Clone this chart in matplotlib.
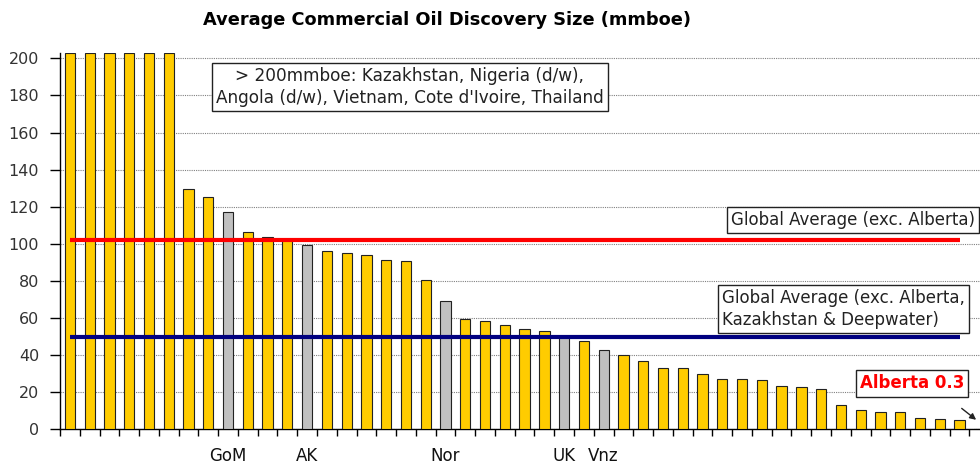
# Average commercial oil discovery size chart
import matplotlib
matplotlib.use("Agg")
import matplotlib.pyplot as plt
import numpy as np

# Bar values (mmboe) - bars above 200 are capped at the top of the plot
sizes = [203, 203, 203, 203, 203, 203, 129.4, 125, 117.4, 106.6,
         103.6, 102, 99.5, 96, 95.3, 93.7, 91.4, 90.7, 80.3, 69,
         59.5, 58.4, 56.1, 54, 53.2, 50.2, 47.5, 42.5, 40, 37,
         33, 33, 29.7, 27.2, 27.2, 26.6, 23.3, 22.7, 21.5, 13.1,
         10.2, 9.5, 9.5, 5.9, 5.4, 4.8, 0.3]
# grey bars are the labelled regions
grey_bars = [8, 12, 19, 25, 27]
region_labels = {8: "GoM", 12: "AK", 19: "Nor", 25: "UK", 27: "Vnz"}

global_avg = 102
global_avg_ex = 50

yticks = list(range(0, 201, 20))

# layout in pixels
W, H = 980, 466
x0, y0 = 60, 429.3
step = 19.77
ytop = 53

fig = plt.figure(figsize=(W / 100, H / 100), dpi=100)
n = len(sizes)
ax = fig.add_axes([x0 / W, (H - y0) / H, n * step / W, (y0 - ytop) / H])

colors = ["#C0C0C0" if i in grey_bars else "#FFCC00" for i in range(n)]
x = np.arange(n)
ax.bar(x, sizes, width=0.52, color=colors, edgecolor="#222222", linewidth=0.8, zorder=3)

ax.set_xlim(-0.5, n - 0.5)
ax.set_ylim(0, (y0 - ytop) / 1.855)

# average lines
ax.hlines(global_avg, 0, n - 2, color="#FF0000", linewidth=3, zorder=4)
ax.hlines(global_avg_ex, 0, n - 2, color="#000080", linewidth=3, zorder=4)

# grid
ax.set_yticks(yticks)
ax.yaxis.grid(True, color="#808080", linestyle=(0, (1, 1)), linewidth=0.8, zorder=0)
ax.tick_params(axis="y", direction="out", length=7, width=1, pad=8,
               labelsize=11.5, labelcolor="#333333")

# x ticks: marks at category boundaries, labels on region bars
ax.set_xticks(np.arange(n + 1) - 0.5, minor=True)
ax.set_xticks(list(region_labels.keys()))
ax.set_xticklabels(list(region_labels.values()), fontsize=12, color="#111111")
ax.tick_params(axis="x", which="major", length=0, pad=13)
ax.tick_params(axis="x", which="minor", direction="out", length=5, width=1)

for s in ["top", "right"]:
    ax.spines[s].set_visible(False)
ax.spines["left"].set_linewidth(1)
ax.spines["bottom"].set_linewidth(1)

fig.text(447 / W, 1 - 20 / H, "Average Commercial Oil Discovery Size (mmboe)",
         ha="center", va="center", fontsize=12.8, fontweight="bold")

box = dict(boxstyle="square,pad=0.25", facecolor="white", edgecolor="#222222", linewidth=1)

ax.text(17.2, 184.5, "> 200mmboe: Kazakhstan, Nigeria (d/w),\nAngola (d/w), Vietnam, Cote d'Ivoire, Thailand",
        ha="center", va="center", fontsize=12.2, color="#222222", bbox=box, zorder=5,
        linespacing=1.3)
ax.text(33.45, 112.8, "Global Average (exc. Alberta)", ha="left", va="center",
        fontsize=12, color="#222222", bbox=box, zorder=5)
ax.text(33.0, 64.9, "Global Average (exc. Alberta,\nKazakhstan & Deepwater)", ha="left",
        va="center", fontsize=12, color="#222222", bbox=box, zorder=5, linespacing=1.3)
ax.text(42.6, 24.7, "Alberta 0.3", ha="center", va="center", fontsize=12,
        fontweight="bold", color="#FF0000", bbox=box, zorder=5)
ax.annotate("", xy=(45.95, 4.2), xytext=(45.0, 12.2),
            arrowprops=dict(arrowstyle="-|>", color="#222222", lw=1, mutation_scale=9),
            zorder=5)

fig.savefig("out.png", dpi=100)
